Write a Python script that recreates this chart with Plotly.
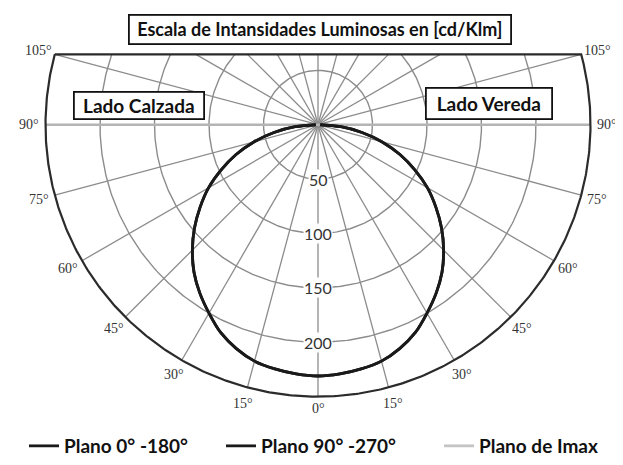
import numpy as np
import plotly.graph_objects as go

# ---------------- data ----------------
angles = [-90, -85, -80, -75, -70, -65, -60, -55, -50, -45, -40, -35, -30, -25, -20, -15, -10, -5,
          0, 5, 10, 15, 20, 25, 30, 35, 40, 45, 50, 55, 60, 65, 70, 75, 80, 85, 90]
plane_0_180 = [2, 21, 41, 61, 80, 98, 116, 132, 148, 163, 177, 189, 200, 211, 219, 225, 228, 230,
               231, 230, 228, 225, 219, 211, 200, 189, 177, 163, 148, 132, 116, 98, 80, 61, 41, 21, 2]
plane_90_270 = [2, 21, 41, 61, 80, 98, 116, 132, 148, 163, 177, 189, 200, 211, 219, 225, 228, 230,
                231, 230, 228, 225, 219, 211, 200, 189, 177, 163, 148, 132, 116, 98, 80, 61, 41, 21, 2]
plane_imax = [2, 21, 41, 61, 80, 98, 116, 132, 148, 163, 177, 189, 200, 211, 219, 225, 228, 230,
              231, 230, 228, 225, 219, 211, 200, 189, 177, 163, 148, 132, 116, 98, 80, 61, 41, 21, 2]

ring_values = [50, 100, 150, 200]
ring_labels = ["50", "100", "150", "200"]
outer_r = 250
sector_deg = 105                     # diagram spans -105..105 deg from nadir
radial_angles = list(range(-165, 181, 15))
angle_ticks = [0, 15, 30, 45, 60, 75, 90, 105]

title_text = "Escala de Intansidades Luminosas en [cd/Klm]"
left_label = "Lado Calzada"
right_label = "Lado Vereda"
legend_names = ["Plano 0° -180°", "Plano 90° -270°", "Plano de Imax"]

# ---------------- geometry helpers ----------------
OFF = 8                  # default page margin around the figure
W, H = 623 - OFF, 465 - OFF
S = 1.09                 # px per cd/klm
CX, CY = 318 - OFF, 125 - OFF
xr = [-CX / S, (W - CX) / S]
yr = [-(H - CY) / S, CY / S]


def pol2xy(r, th_deg):
    th = np.radians(np.asarray(th_deg, dtype=float))
    r = np.asarray(r, dtype=float)
    return r * np.sin(th), -r * np.cos(th)


def px(xp, yp):
    """page pixel -> paper fraction"""
    return (xp - OFF) / W, 1 - (yp - OFF) / H


chord_y = outer_r * np.sin(np.radians(sector_deg - 90))

GRID = "#8c8c8c"
fig = go.Figure()

# rings (clipped at the top chord)
for rv in ring_values:
    if rv <= chord_y:
        th = np.linspace(-180, 180, 361)
    else:
        tmax = np.degrees(np.arccos(-chord_y / rv))
        th = np.linspace(-tmax, tmax, 300)
    x, y = pol2xy(np.full_like(th, rv), th)
    fig.add_trace(go.Scatter(x=x, y=y, mode="lines", line=dict(color=GRID, width=1.4),
                             hoverinfo="skip", showlegend=False))

# radial lines
for a in radial_angles:
    if abs(a) == 90:
        continue
    if abs(a) <= sector_deg:
        rend = outer_r
    else:
        rend = chord_y / (-np.cos(np.radians(a)))
    x, y = pol2xy([0, rend], [a, a])
    fig.add_trace(go.Scatter(x=x, y=y, mode="lines", line=dict(color=GRID, width=1.3),
                             hoverinfo="skip", showlegend=False))

# horizontal 90 deg line
x, y = pol2xy([outer_r, outer_r], [-90, 90])
fig.add_trace(go.Scatter(x=x, y=y, mode="lines", line=dict(color="#b4b4b4", width=2.6),
                         hoverinfo="skip", showlegend=False))

# outer boundary: arc + top chord
th = np.linspace(-sector_deg, sector_deg, 400)
x, y = pol2xy(np.full_like(th, outer_r), th)
x = np.append(x, x[0]); y = np.append(y, y[0])
fig.add_trace(go.Scatter(x=x, y=y, mode="lines", line=dict(color="#2b2b2b", width=2.2),
                         hoverinfo="skip", showlegend=False))

# photometric curves (Imax drawn first, underneath)
for vals, name, color, lg in [(plane_imax, legend_names[2], "#c4c4c4", "legend3"),
                              (plane_90_270, legend_names[1], "#1a1a1a", "legend2"),
                              (plane_0_180, legend_names[0], "#1a1a1a", "legend")]:
    x, y = pol2xy(vals, angles)
    fig.add_trace(go.Scatter(x=x, y=y, mode="lines", name=name, legend=lg,
                             line=dict(color=color, width=2.8, shape="spline")))

annotations = []
# ring value labels on the nadir axis
for rv, lab in zip(ring_values, ring_labels):
    x, y = pol2xy(rv, 0)
    annotations.append(dict(x=float(x), y=float(y), xref="x", yref="y", text=lab, showarrow=False,
                            bgcolor="white", borderpad=0,
                            font=dict(family="Lato", size=16, color="#333333")))
# angle labels
for a in angle_ticks:
    for sgn in ([1] if a == 0 else [-1, 1]):
        if a == 0:
            x, y = pol2xy(outer_r + 2, 0)
            yanc = "top"
        else:
            x, y = pol2xy(outer_r + 15, sgn * a)
            yanc = "middle"
        annotations.append(dict(x=float(x), y=float(y), xref="x", yref="y", text=f"{a}°",
                                showarrow=False, yanchor=yanc,
                                font=dict(family="Liberation Serif", size=14, color="#333333")))

for text, cxp, cyp, w, h, fs in [(title_text, 319.5, 29.5, 378, 25, 18),
                                 (left_label, 139, 105.5, 126, 23, 19),
                                 (right_label, 489, 104, 122, 27, 19)]:
    ax_, ay_ = px(cxp, cyp)
    annotations.append(dict(x=ax_, y=ay_, xref="paper", yref="paper", text=text, showarrow=False,
                            xanchor="center", yanchor="middle",
                            width=w, height=h, align="center", valign="middle",
                            bordercolor="#111111", borderwidth=1.8, borderpad=1, bgcolor="white",
                            font=dict(family="Lato", size=fs, color="#111111", weight=700)))

leg_font = dict(family="Lato", size=19, color="#111111", weight=700)
leg_y = px(0, 447)[1]
legends = {}
for key, text_start in [("legend", 65), ("legend2", 262), ("legend3", 480)]:
    legends[key] = dict(orientation="h", x=px(text_start - 41, 0)[0], y=leg_y,
                        xanchor="left", yanchor="middle", font=leg_font,
                        bgcolor="rgba(0,0,0,0)", borderwidth=0)

fig.update_layout(
    width=W, height=H,
    margin=dict(l=0, r=0, t=0, b=0),
    paper_bgcolor="white", plot_bgcolor="white",
    xaxis=dict(range=xr, visible=False, fixedrange=True),
    yaxis=dict(range=yr, visible=False, fixedrange=True),
    annotations=annotations,
    showlegend=True,
    **legends,
)

fig.write_html("out.html")
